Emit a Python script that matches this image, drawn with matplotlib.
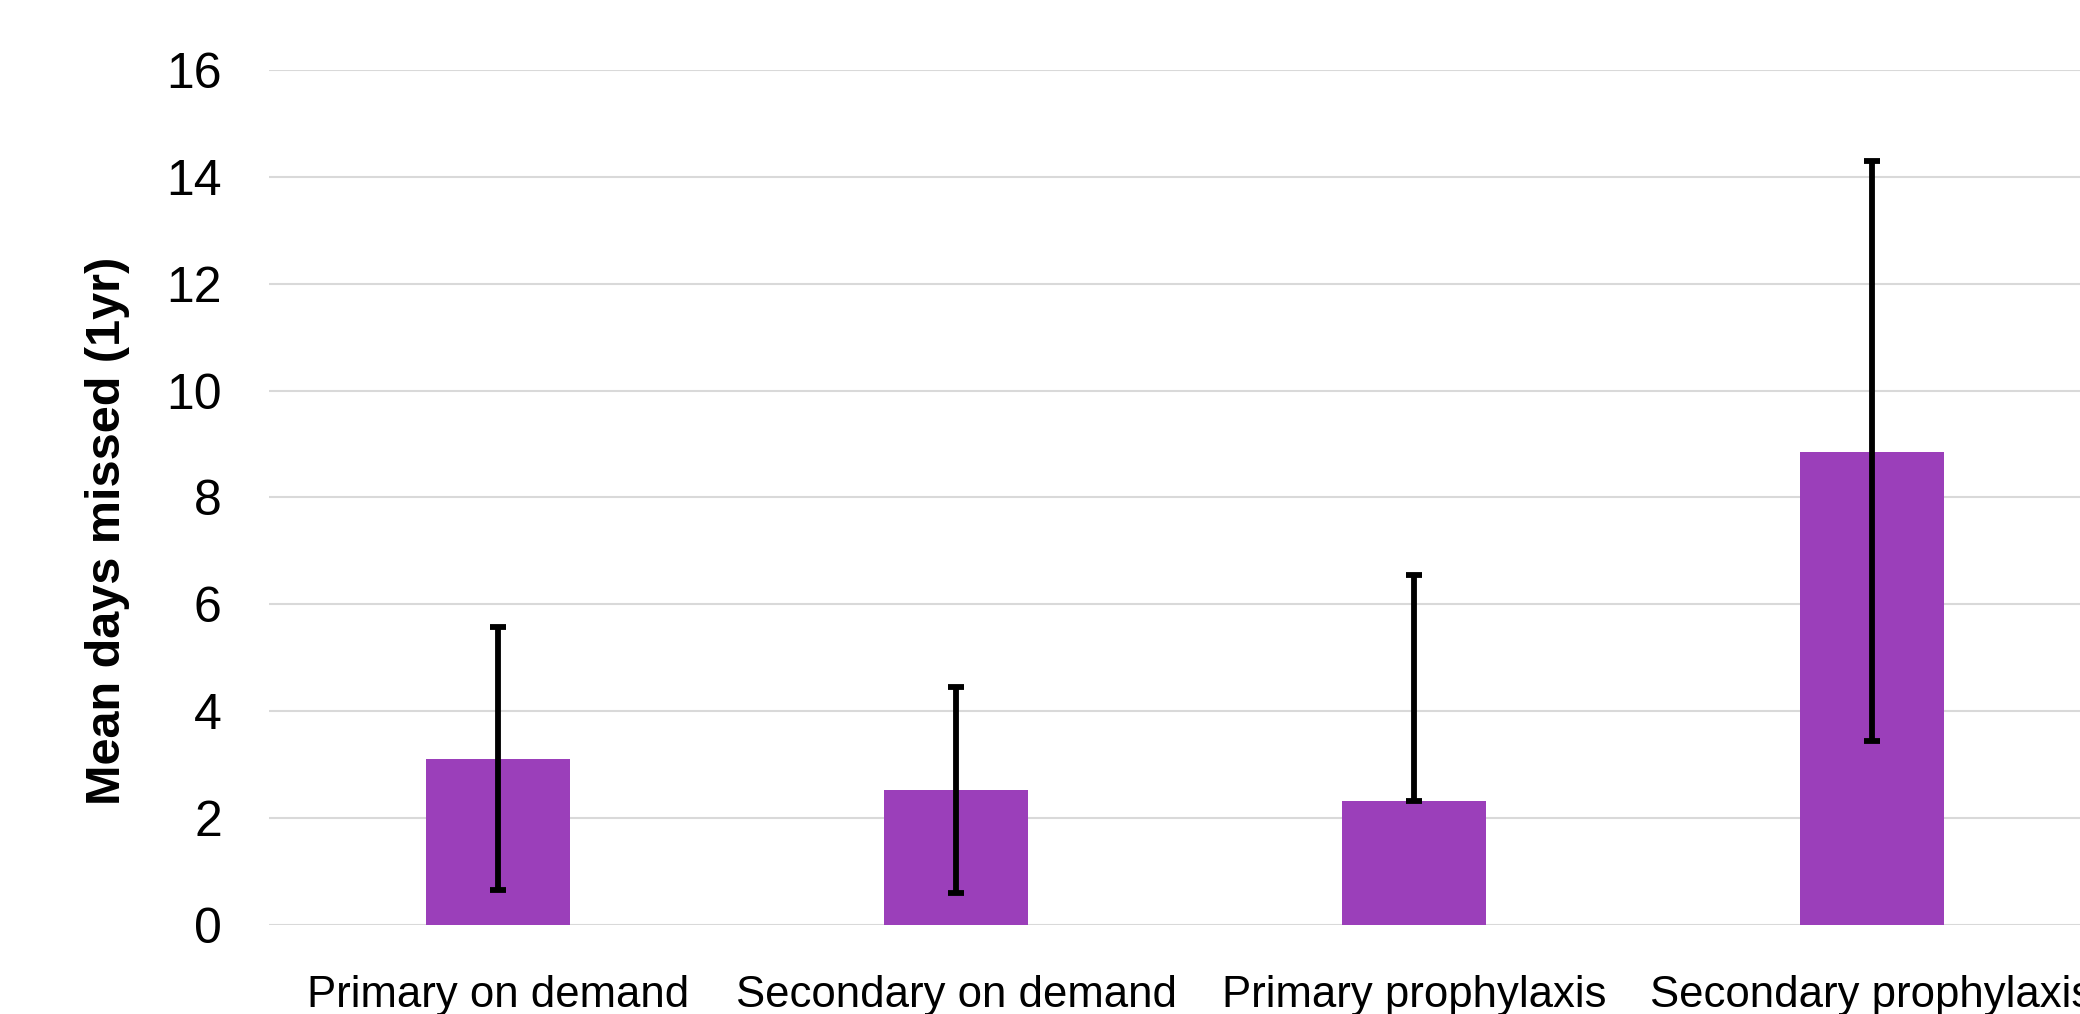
import matplotlib
matplotlib.use('Agg')
import matplotlib.pyplot as plt
import numpy as np

CATEGORIES = ["Primary on demand", "Secondary on demand",
              "Primary prophylaxis", "Secondary prophylaxis"]
MEANS = [3.11, 2.52, 2.31, 8.85]
ERR_LO = [2.46, 1.93, 0.0, 5.42]
ERR_HI = [2.46, 1.93, 4.24, 5.45]
Y_TICKS = [0, 2, 4, 6, 8, 10, 12, 14, 16]

FONT = ['Liberation Sans', 'DejaVu Sans']

fig = plt.figure(figsize=(20.8, 10.14), dpi=100)
# axes runs slightly past the right edge, like the cropped original
ax = fig.add_axes([269 / 2080, 89.4 / 1014, 1832 / 2080, 854.3 / 1014])

x = np.arange(len(CATEGORIES))
ax.bar(x, MEANS, width=0.315, color="#9B3FBA", zorder=2)
ax.errorbar(x, MEANS, yerr=[ERR_LO, ERR_HI], fmt='none', ecolor='black',
            elinewidth=4.2, capsize=5.5, capthick=4.2, zorder=3)

ax.set_xlim(-0.5, 3.5)
ax.set_ylim(0, 16)
ax.set_yticks(Y_TICKS)
ax.set_yticklabels([str(t) for t in Y_TICKS], family=FONT, fontsize=36)
ax.set_xticks(x)
ax.set_xticklabels(CATEGORIES, family=FONT, fontsize=31.5)
ax.tick_params(axis='y', length=0, pad=34)
ax.tick_params(axis='x', length=0, pad=36)

ax.grid(True, axis='y', color='#D9D9D9', linewidth=1.5, zorder=0)
for s in ax.spines.values():
    s.set_visible(False)

ax.set_ylabel("Mean days missed (1yr)", family=FONT, fontsize=35,
              fontweight='bold')
ax.yaxis.set_label_coords(-0.076, 0.461)

plt.savefig("out.png", dpi=100)
plt.close()
